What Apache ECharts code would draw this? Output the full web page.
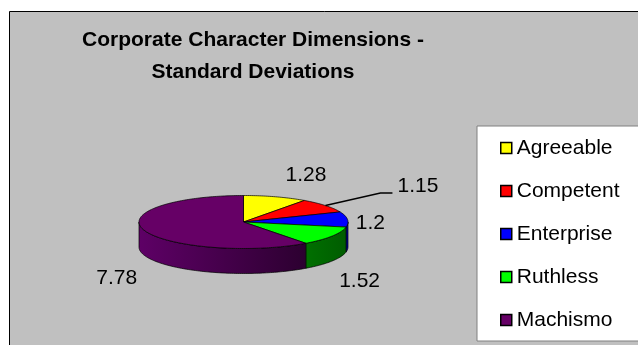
<!DOCTYPE html>
<html>
<head>
<meta charset="utf-8">
<script src="https://cdn.jsdelivr.net/npm/echarts@6/dist/echarts.min.js"></script>
<style>
  html, body { margin: 0; padding: 0; background: #fff; }
  #chart { width: 638px; height: 345px; }
</style>
</head>
<body>
<div id="chart"></div>
<script>
var categories = ['Agreeable', 'Competent', 'Enterprise', 'Ruthless', 'Machismo'];
var values = [1.28, 1.15, 1.2, 1.52, 7.78];
var topColors = ['#ffff00', '#ff0000', '#0000ff', '#00ff00', '#660066'];
var sideColors = [
  ['#999900', '#666600'],
  ['#990000', '#660000'],
  ['#0000cc', '#000088'],
  ['#007000', '#005c00'],
  ['#5e0066', '#2c0030']
];
// small hand shifts so the labels sit where Excel put them
var labelNudge = [[22, 0], [0, 0], [-5, 0], [4, -3], [-1, 6]];
var leaderIndex = 1;

var font = "'Liberation Sans', Arial, sans-serif";
var pie = { cx: 243.5, cy: 222, rx: 104.5, ry: 26.5, depth: 25 };

var total = values.reduce(function (s, v) { return s + v; }, 0);

function arcPoints(a0, a1, dy) {
  var pts = [];
  var n = Math.max(2, Math.ceil(Math.abs(a1 - a0) / 0.02));
  for (var k = 0; k <= n; k++) {
    var t = a0 + (a1 - a0) * k / n;
    pts.push([pie.cx + pie.rx * Math.cos(t), pie.cy + dy + pie.ry * Math.sin(t)]);
  }
  return pts;
}

function makeRenderItem(i) {
  return function (params, api) {
    var before = 0;
    for (var j = 0; j < i; j++) before += values[j];
    var a0 = -Math.PI / 2 + before / total * Math.PI * 2;
    var a1 = a0 + api.value(0) / total * Math.PI * 2;
    var children = [];

    // front wall, only the part facing the viewer
    var s0 = Math.max(a0, 0), s1 = Math.min(a1, Math.PI);
    if (s1 > s0) {
      children.push({
        type: 'polygon',
        z2: 0,
        shape: { points: arcPoints(s0, s1, 0).concat(arcPoints(s1, s0, pie.depth)) },
        style: {
          fill: new echarts.graphic.LinearGradient(0, 0, 1, 0, [
            { offset: 0, color: sideColors[i][0] },
            { offset: 1, color: sideColors[i][1] }
          ]),
          stroke: '#000',
          lineWidth: 0.7
        }
      });
    }

    // top face
    children.push({
      type: 'polygon',
      z2: 10,
      shape: { points: [[pie.cx, pie.cy]].concat(arcPoints(a0, a1, 0)) },
      style: { fill: topColors[i], stroke: '#000', lineWidth: 0.7 }
    });

    var m = (a0 + a1) / 2;
    var text = String(api.value(0));
    if (i === leaderIndex) {
      var px = pie.cx + pie.rx * Math.cos(m), py = pie.cy + pie.ry * Math.sin(m);
      children.push({
        type: 'polyline',
        z2: 20,
        shape: { points: [[px, py], [px + 55, py - 12.5], [px + 67, py - 12.5]] },
        style: { stroke: '#000', lineWidth: 1.4, fill: null }
      });
      children.push({
        type: 'text',
        z2: 20,
        x: px + 72,
        y: py - 19,
        style: { text: text, font: '21px ' + font, fill: '#000', align: 'left', verticalAlign: 'middle' }
      });
    } else {
      var lx = pie.cx + (pie.rx + 28) * Math.cos(m) + labelNudge[i][0];
      var ly = pie.cy + 7 + (Math.sin(m) > 0 ? pie.depth : 0) + (pie.ry + 30) * Math.sin(m) + labelNudge[i][1];
      children.push({
        type: 'text',
        z2: 20,
        x: lx,
        y: ly,
        style: { text: text, font: '21px ' + font, fill: '#000', align: 'center', verticalAlign: 'middle' }
      });
    }
    return { type: 'group', children: children };
  };
}

var series = categories.map(function (name, i) {
  return {
    name: name,
    type: 'custom',
    coordinateSystem: 'none',
    itemStyle: { color: topColors[i] },
    data: [values[i]],
    renderItem: makeRenderItem(i)
  };
});

var chart = echarts.init(document.getElementById('chart'));
chart.setOption({
  animation: false,
  backgroundColor: '#fff',
  graphic: {
    elements: [
      {
        type: 'rect',
        z: -10,
        shape: { x: 9.5, y: 11.5, width: 700, height: 400 },
        style: { fill: '#c0c0c0', stroke: '#000', lineWidth: 1 }
      },
      {
        type: 'text',
        x: 253, y: 40,
        style: { text: 'Corporate Character Dimensions -', font: 'bold 21px ' + font, fill: '#000', align: 'center', verticalAlign: 'middle' }
      },
      {
        type: 'text',
        x: 253, y: 72,
        style: { text: 'Standard Deviations', font: 'bold 21px ' + font, fill: '#000', align: 'center', verticalAlign: 'middle' }
      }
    ]
  },
  legend: {
    data: categories,
    orient: 'vertical',
    left: 477,
    top: 126,
    backgroundColor: '#fff',
    borderColor: '#808080',
    borderWidth: 1,
    padding: [11, 60, 10, 23],
    itemGap: 21,
    itemWidth: 11,
    itemHeight: 11,
    icon: 'rect',
    itemStyle: { borderColor: '#000', borderWidth: 1.5 },
    textStyle: { fontFamily: font, fontSize: 21, lineHeight: 22, color: '#000' },
    selectedMode: false
  },
  series: series
});
</script>
</body>
</html>
